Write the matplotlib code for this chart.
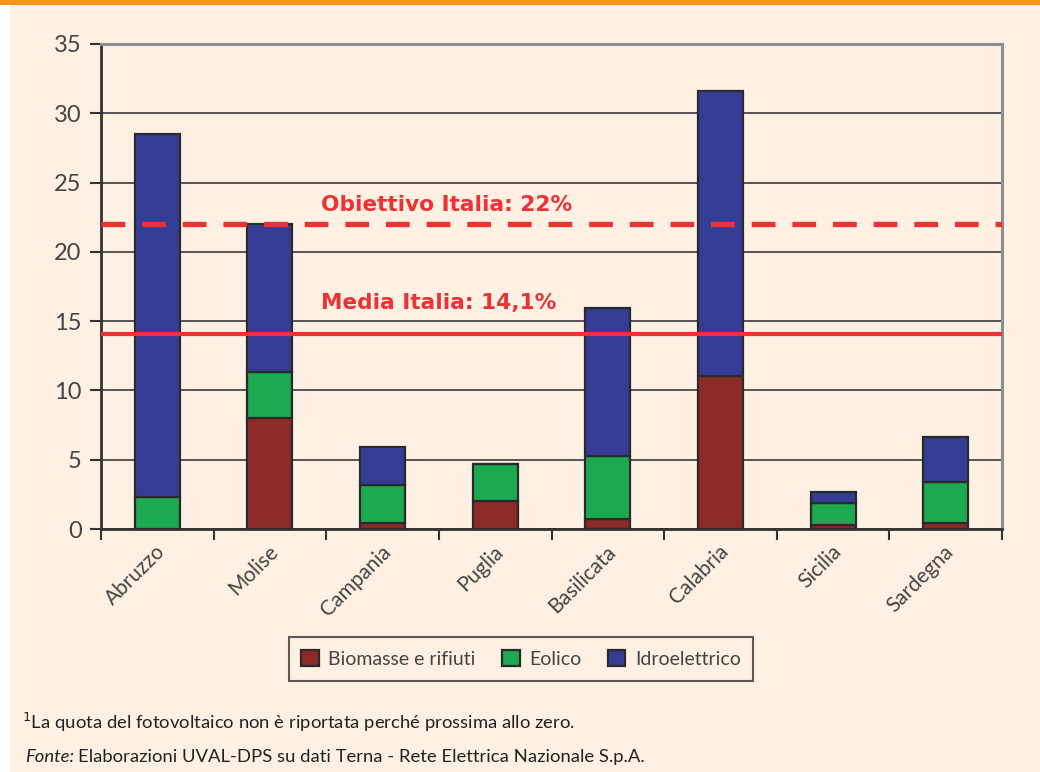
import numpy as np
import matplotlib
matplotlib.use("Agg")
import matplotlib.pyplot as plt
import matplotlib.transforms as mtransforms
from matplotlib.patches import Rectangle

# =====================================================
# DATA
# =====================================================

regioni = ["Abruzzo", "Molise", "Campania", "Puglia",
           "Basilicata", "Calabria", "Sicilia", "Sardegna"]

biomasse = [0.0, 8.0, 0.43, 2.0, 0.7, 11.05, 0.27, 0.41]
eolico = [2.3, 3.3, 2.77, 2.7, 4.55, 0.0, 1.61, 2.96]
idro = [26.2, 10.7, 2.7, 0.0, 10.7, 20.55, 0.77, 3.27]

obiettivo = 22.0
media = 14.1

serie_nomi = ["Biomasse e rifiuti", "Eolico", "Idroelettrico"]
colori = ["#8B2A27", "#1DA852", "#343C96"]

# =====================================================
# FIGURE
# =====================================================

plt.rcParams["font.family"] = ["Lato", "DejaVu Sans"]

bg = "#FEF1E3"
txt = "#444444"
fig = plt.figure(figsize=(10.4, 7.72), dpi=100)
fig.patch.set_facecolor(bg)

# white strip on the left and orange band on top
fig.patches.append(Rectangle((0, 0), 10 / 1040, 1, transform=fig.transFigure,
                             facecolor="white", edgecolor="none", zorder=0))
fig.patches.append(Rectangle((0, 1 - 5 / 772), 1, 5 / 772, transform=fig.transFigure,
                             facecolor="#F7941D", edgecolor="none", zorder=1))

ax = fig.add_axes([101 / 1040, 1 - 529 / 772, 901 / 1040, 485 / 772])
ax.set_facecolor(bg)

x = np.arange(len(regioni))
w = 0.4
bottom = np.zeros(len(regioni))
for vals, nome, col in zip([biomasse, eolico, idro], serie_nomi, colori):
    ax.bar(x, vals, w, bottom=bottom, color=col, edgecolor="#2a2a2a",
           linewidth=1.6, label=nome, zorder=3)
    bottom = bottom + np.array(vals)

# reference lines
ax.axhline(obiettivo, color="#EE3135", linewidth=3.8, linestyle=(0, (4.5, 3.2)), zorder=4)
ax.axhline(media, color="#EE3135", linewidth=3, zorder=4)
ax.text(1.45, obiettivo + 1.4, "Obiettivo Italia: 22%", color="#EE3135",
        fontsize=15.6, fontweight="bold", family="DejaVu Sans",
        ha="left", va="center", zorder=5)
ax.text(1.45, media + 2.2, "Media Italia: 14,1%", color="#EE3135",
        fontsize=15.6, fontweight="bold", family="DejaVu Sans",
        ha="left", va="center", zorder=5)

# axes
ax.set_xlim(-0.5, len(regioni) - 0.5)
ax.set_ylim(0, 35)
ax.set_yticks(np.arange(0, 36, 5))
ax.tick_params(axis="y", labelsize=17, labelcolor=txt, length=8,
               width=1.5, color="#333333", pad=6)
ax.yaxis.grid(True, color="#3a3a3a", linewidth=1.2, zorder=1)
ax.set_axisbelow(True)

# ticks on category edges, labels at the centres
ax.set_xticks(np.arange(-0.5, len(regioni), 1.0))
ax.set_xticklabels([])
ax.tick_params(axis="x", length=8, width=1.5, color="#333333")
ax.set_xticks(x, minor=True)
ax.set_xticklabels(regioni, minor=True, rotation=45, ha="right",
                   fontsize=15, color=txt)
ax.tick_params(axis="x", which="minor", length=0, pad=9)
shift = mtransforms.ScaledTranslation(12 / 100, 0, fig.dpi_scale_trans)
for lbl in ax.get_xticklabels(minor=True):
    lbl.set_transform(lbl.get_transform() + shift)

for s in ["left", "bottom"]:
    ax.spines[s].set_color("#333333")
    ax.spines[s].set_linewidth(2)
for s in ["top", "right"]:
    ax.spines[s].set_color("#8A8F94")
    ax.spines[s].set_linewidth(2.2)

# legend
leg = fig.legend(loc="center", bbox_to_anchor=(521 / 1040, 1 - 659 / 772),
                 ncol=3, fontsize=14, frameon=True, fancybox=False,
                 edgecolor="#333333", facecolor=bg, handlelength=0.9,
                 handleheight=0.9, columnspacing=1.35, handletextpad=0.5,
                 borderpad=0.65, labelcolor=txt)
leg.get_frame().set_linewidth(1.5)

# notes
fig.text(22 / 1040, 1 - 722 / 772,
         "$^{1}$La quota del fotovoltaico non è riportata perché prossima allo zero.",
         fontsize=13.3, color="#222222", va="center")
fonte = fig.text(25 / 1040, 1 - 757 / 772, "Fonte:", fontsize=13.3, style="italic",
                 color="#222222", va="center")
fig.add_artist(matplotlib.text.Annotation(
    "Elaborazioni UVAL-DPS su dati Terna - Rete Elettrica Nazionale S.p.A.",
    xy=(1, 0.5), xycoords=fonte, xytext=(3, 0), textcoords="offset points",
    fontsize=13.3, color="#222222", va="center", ha="left",
    annotation_clip=False))

fig.savefig("out.png", dpi=100, facecolor=fig.get_facecolor())
